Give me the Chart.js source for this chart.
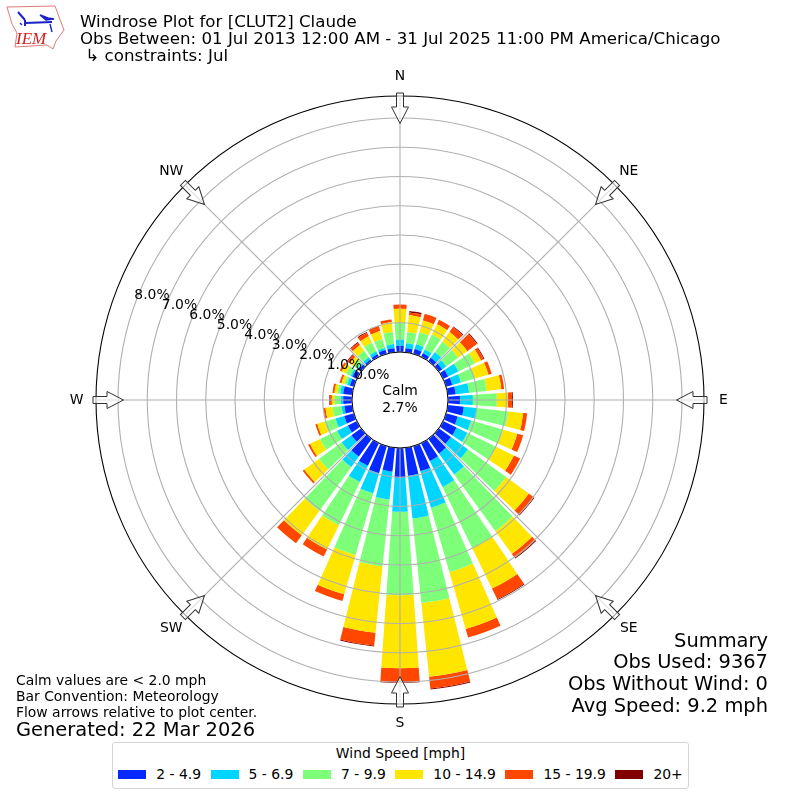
<!DOCTYPE html>
<html>
<head>
<meta charset="utf-8">
<script src="https://cdn.jsdelivr.net/npm/chart.js@4"></script>
<style>
  html, body { margin: 0; padding: 0; background: #fff; }
  body { width: 800px; height: 800px; position: relative; overflow: hidden;
         font-family: "DejaVu Sans", sans-serif; color: #000; }
  canvas { position: absolute; left: 0; top: 0; }
  .txt { position: absolute; white-space: pre; }
  #title { left: 80px; top: 12.5px; font-size: 16.67px; line-height: 17.3px; }
  #notes { left: 16px; top: 672px; font-size: 13.9px; line-height: 16px; }
  #generated { left: 16px; top: 718px; font-size: 19.44px; line-height: 23px; }
  #summary { right: 32px; top: 629.5px; font-size: 19.44px; line-height: 21.8px; text-align: right; }
  #logo { position: absolute; left: 0; top: 0; }
  #legend { position: absolute; left: 112px; top: 742px; width: 575px; height: 45px;
            border: 1px solid #d5d5d5; border-radius: 3px; font-size: 13.9px; text-align: center; background: #fff; }
  #legendTitle { margin-top: 1px; line-height: 18px; }
  #legendRow { display: flex; justify-content: center; gap: 9.6px; margin-top: 3px; line-height: 18px; }
  .item { display: flex; align-items: center; }
  .swatch { display: inline-block; width: 28px; height: 9px; margin-right: 10px; }
</style>
</head>
<body>
<canvas id="rose" width="800" height="800"></canvas>

<svg id="logo" width="70" height="54" viewBox="0 0 70 54">
  <path d="M7 7 L55 6 L59 17 L64 30 L56 41 L53 49 L47 45 L15 47 L17 33 L12 24 Z" fill="#fff" stroke="#e07878" stroke-width="1"/>
  <path d="M25 23 L52 22 M25 20 L25 26 M18 12 L25 20" stroke="#1a22c8" stroke-width="2" fill="none"/>
  <path d="M40 15 L48 18 L54 19 L46 20 Z M50 24 L52 32 M20 23 L22 25" stroke="#1a22c8" stroke-width="1.4" fill="#1a22c8"/>
  <text x="16" y="44" font-family="Liberation Serif" font-style="italic" font-size="17" fill="#d02020">IEM</text>
</svg>

<div id="title" class="txt">Windrose Plot for [CLUT2] Claude
Obs Between: 01 Jul 2013 12:00 AM - 31 Jul 2025 11:00 PM America/Chicago
 ↳ constraints: Jul</div>
<div id="notes" class="txt">Calm values are &lt; 2.0 mph
Bar Convention: Meteorology
Flow arrows relative to plot center.</div>
<div id="generated" class="txt">Generated: 22 Mar 2026</div>
<div id="summary" class="txt">Summary
Obs Used: 9367
Obs Without Wind: 0
Avg Speed: 9.2 mph</div>
<div id="legend">
  <div id="legendTitle">Wind Speed [mph]</div>
  <div id="legendRow"></div>
</div>

<script>
// Wind direction bins (deg) and compass points for the angle lines
const directions = [0, 10, 20, 30, 40, 50, 60, 70, 80, 90, 100, 110, 120, 130, 140, 150, 160, 170,
                    180, 190, 200, 210, 220, 230, 240, 250, 260, 270, 280, 290, 300, 310, 320, 330, 340, 350];
const compass = ["N", "NE", "E", "SE", "S", "SW", "W", "NW"];

const speedClasses = ["2 - 4.9", "5 - 6.9", "7 - 9.9", "10 - 14.9", "15 - 19.9", "20+"];
const speedColors = ["#0529ff", "#00d5ff", "#7dff7a", "#ffe600", "#ff4700", "#800000"];

// Percent of observations per direction bin
const speed2to5 = [.21, .14, .17, .14, .14, .14, .19, .22, .27, .41, .55, .41, .51, .51, .62, .68, .89, .96,
                   1.01, .82, .96, .86, .75, .41, .34, .34, .27, .30, .31, .14, .17, .10, .07, .10, .14, .14];
const speed5to7 = [.21, .17, .17, .14, .24, .17, .39, .31, .46, .44, .44, .48, .41, .72, .89, .99, 1.30, 1.47,
                   1.17, .96, .72, .62, .44, .41, .41, .31, .10, .08, .10, .10, .07, .07, .10, .10, .07, .14];
const speed7to10 = [.57, .38, .43, .57, .44, .51, .62, .49, .60, .82, 1.09, 1.13, 1.09, 1.61, 2.39, 2.32, 2.29, 2.91,
                    2.85, 2.29, 2.19, 1.64, 1.85, .96, .65, .38, .31, .21, .10, .10, .17, .17, .27, .34, .31, .41];
const speed10to15 = [.49, .58, .42, .39, .41, .38, .24, .48, .51, .38, .51, .51, .68, .96, .96, 1.54, 2.02, 2.53,
                     2.50, 2.29, 1.40, .92, 1.03, .62, .38, .27, .24, .10, .10, .10, .17, .14, .24, .24, .29, .34];
const speed15to20 = [.14, .10, .24, .17, .21, .41, .10, .12, .10, .14, .14, .21, .24, .21, .17, .41, .31, .41,
                     .48, .44, .24, .27, .34, .07, .07, .07, .07, .07, .07, .07, .07, .10, .10, .14, .19, .10];
const speed20up = [0, .05, 0, 0, .03, .03, .03, 0, 0, .03, 0, 0, 0, .03, .03, .03, 0, .03,
                   .02, .03, 0, 0, 0, 0, 0, 0, 0, .02, 0, 0, 0, .03, .03, .03, 0, 0];
const speedSeries = [speed2to5, speed5to7, speed7to10, speed10to15, speed15to20, speed20up];

const tickValues = [0, 1, 2, 3, 4, 5, 6, 7, 8];
const tickLabels = ["0.0%", "1.0%", "2.0%", "3.0%", "4.0%", "5.0%", "6.0%", "7.0%", "8.0%"];

const calmText = ["Calm", "2.7%"];

// radial axis limits: 0% sits on the edge of the calm circle
const R_MIN = -1.641;
const R_MAX = 8.752;
const BAR_WIDTH = 8;
const toRad = d => d * Math.PI / 180;

// Polar bars that stack on the datasets before them
class WindroseController extends Chart.PolarAreaController {
  static id = "windrose";
  static defaults = Chart.PolarAreaController.defaults;
  static overrides = Chart.PolarAreaController.overrides;

  updateElements(arcs, start, count, mode) {
    const scale = this._cachedMeta.rScale;
    const datasets = this.chart.data.datasets;
    for (let i = start; i < start + count; i++) {
      let base = 0;
      for (let d = 0; d < this.index; d++) base += datasets[d].data[i];
      const mid = toRad(directions[i] - 90);
      this.updateElement(arcs[i], i, {
        x: scale.xCenter,
        y: scale.yCenter,
        innerRadius: scale.getDistanceFromCenterForValue(base),
        outerRadius: scale.getDistanceFromCenterForValue(base + datasets[this.index].data[i]),
        startAngle: mid - toRad(BAR_WIDTH / 2),
        endAngle: mid + toRad(BAR_WIDTH / 2),
        options: this.resolveDataElementOptions(i, mode)
      }, mode);
    }
  }
}
Chart.register(WindroseController);

// Calm circle, compass arrows and all the labels round the plot
const roseDecor = {
  id: "roseDecor",
  afterDraw(chart) {
    const ctx = chart.ctx;
    const r = chart.scales.r;
    const cx = r.xCenter, cy = r.yCenter;
    const zero = r.getDistanceFromCenterForValue(0);
    ctx.save();

    ctx.beginPath();
    ctx.arc(cx, cy, zero, 0, Math.PI * 2);
    ctx.fillStyle = "#fff";
    ctx.fill();
    ctx.strokeStyle = "#000";
    ctx.lineWidth = 1;
    ctx.stroke();

    ctx.fillStyle = "#000";
    ctx.textAlign = "center";
    ctx.textBaseline = "middle";
    ctx.font = '13.9px "DejaVu Sans"';
    ctx.fillText(calmText[0], cx, cy - 9);
    ctx.fillText(calmText[1], cx, cy + 8);

    // radial tick labels, along 290 deg
    const a = toRad(290);
    tickValues.forEach((v, i) => {
      const d = r.getDistanceFromCenterForValue(v);
      ctx.fillText(tickLabels[i], cx + d * Math.sin(a) + 17, cy - d * Math.cos(a) - 8);
    });

    // compass arrows and names
    const outer = r.getDistanceFromCenterForValue(R_MAX);
    compass.forEach((name, i) => {
      const pos = r.getPointPosition(i, outer + 19.5);
      ctx.fillStyle = "#000";
      ctx.fillText(name, pos.x, pos.y);

      ctx.save();
      ctx.translate(cx, cy);
      ctx.rotate(r.getIndexAngle(i));
      ctx.beginPath();
      ctx.moveTo(0, -outer + 27.5);
      ctx.lineTo(-8.5, -outer + 11);
      ctx.lineTo(-3.5, -outer + 11);
      ctx.lineTo(-3.5, -outer - 3);
      ctx.lineTo(3.5, -outer - 3);
      ctx.lineTo(3.5, -outer + 11);
      ctx.lineTo(8.5, -outer + 11);
      ctx.closePath();
      ctx.fillStyle = "rgba(255,255,255,0.6)";
      ctx.fill();
      ctx.strokeStyle = "#333";
      ctx.lineWidth = 1;
      ctx.stroke();
      ctx.restore();
    });
    ctx.restore();
  }
};

new Chart(document.getElementById("rose"), {
  type: "windrose",
  data: {
    labels: compass,
    datasets: speedSeries.map((values, i) => ({
      label: speedClasses[i],
      data: values,
      backgroundColor: speedColors[i],
      borderWidth: 0
    }))
  },
  options: {
    responsive: false,
    animation: false,
    layout: { padding: 96 },
    plugins: { legend: { display: false }, tooltip: { enabled: false } },
    scales: {
      r: {
        min: R_MIN,
        max: R_MAX,
        afterBuildTicks: s => { s.ticks = tickValues.concat(R_MAX).map(value => ({ value })); },
        ticks: { display: false },
        pointLabels: { display: false },
        angleLines: { display: true, color: "#b0b0b0", lineWidth: 1.1 },
        grid: {
          z: 1, // rings and spokes sit on top of the bars
          circular: true,
          lineWidth: 1.1,
          color: c => (c.tick && c.tick.value === R_MAX ? "#000" : "#b0b0b0")
        }
      }
    }
  },
  plugins: [roseDecor]
});

// Legend under the plot
const row = document.getElementById("legendRow");
speedClasses.forEach((label, i) => {
  const item = document.createElement("span");
  item.className = "item";
  const sw = document.createElement("span");
  sw.className = "swatch";
  sw.style.background = speedColors[i];
  item.appendChild(sw);
  item.appendChild(document.createTextNode(label));
  row.appendChild(item);
});
</script>
</body>
</html>
